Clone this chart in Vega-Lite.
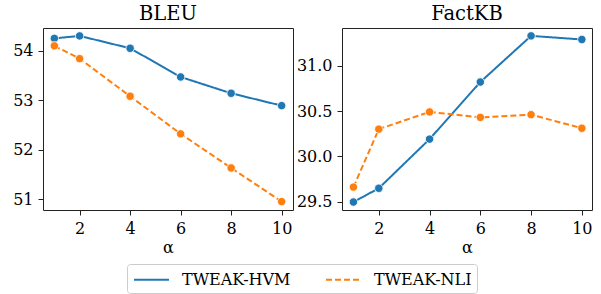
{
  "$schema": "https://vega.github.io/schema/vega-lite/v6.json",
  "padding": {"left": 12, "top": 3, "right": 5, "bottom": 1},
  "background": "white",
  "datasets": {
    "d": [
      {"metric": "BLEU", "alpha": 1, "method": "TWEAK-HVM", "value": 54.25},
      {"metric": "BLEU", "alpha": 2, "method": "TWEAK-HVM", "value": 54.30},
      {"metric": "BLEU", "alpha": 4, "method": "TWEAK-HVM", "value": 54.05},
      {"metric": "BLEU", "alpha": 6, "method": "TWEAK-HVM", "value": 53.47},
      {"metric": "BLEU", "alpha": 8, "method": "TWEAK-HVM", "value": 53.14},
      {"metric": "BLEU", "alpha": 10, "method": "TWEAK-HVM", "value": 52.89},
      {"metric": "BLEU", "alpha": 1, "method": "TWEAK-NLI", "value": 54.10},
      {"metric": "BLEU", "alpha": 2, "method": "TWEAK-NLI", "value": 53.84},
      {"metric": "BLEU", "alpha": 4, "method": "TWEAK-NLI", "value": 53.08},
      {"metric": "BLEU", "alpha": 6, "method": "TWEAK-NLI", "value": 52.32},
      {"metric": "BLEU", "alpha": 8, "method": "TWEAK-NLI", "value": 51.63},
      {"metric": "BLEU", "alpha": 10, "method": "TWEAK-NLI", "value": 50.95},
      {"metric": "FactKB", "alpha": 1, "method": "TWEAK-HVM", "value": 29.495},
      {"metric": "FactKB", "alpha": 2, "method": "TWEAK-HVM", "value": 29.647},
      {"metric": "FactKB", "alpha": 4, "method": "TWEAK-HVM", "value": 30.19},
      {"metric": "FactKB", "alpha": 6, "method": "TWEAK-HVM", "value": 30.82},
      {"metric": "FactKB", "alpha": 8, "method": "TWEAK-HVM", "value": 31.33},
      {"metric": "FactKB", "alpha": 10, "method": "TWEAK-HVM", "value": 31.29},
      {"metric": "FactKB", "alpha": 1, "method": "TWEAK-NLI", "value": 29.66},
      {"metric": "FactKB", "alpha": 2, "method": "TWEAK-NLI", "value": 30.30},
      {"metric": "FactKB", "alpha": 4, "method": "TWEAK-NLI", "value": 30.49},
      {"metric": "FactKB", "alpha": 6, "method": "TWEAK-NLI", "value": 30.43},
      {"metric": "FactKB", "alpha": 8, "method": "TWEAK-NLI", "value": 30.46},
      {"metric": "FactKB", "alpha": 10, "method": "TWEAK-NLI", "value": 30.31}
    ]
  },
  "hconcat": [
    {
      "title": "BLEU",
      "width": 250,
      "height": 182,
      "data": {"name": "d"},
      "transform": [{"filter": "datum.metric === 'BLEU'"}],
      "encoding": {
        "x": {"field": "alpha", "type": "quantitative", "title": "α",
              "scale": {"domain": [0.55, 10.45], "nice": false, "zero": false},
              "axis": {"values": [2, 4, 6, 8, 10]}},
        "y": {"field": "value", "type": "quantitative", "title": null,
              "scale": {"domain": [50.78, 54.46], "nice": false, "zero": false},
              "axis": {"values": [51, 52, 53, 54], "format": "d"}},
        "color": {"field": "method", "type": "nominal", "title": null,
                  "scale": {"domain": ["TWEAK-HVM", "TWEAK-NLI"], "range": ["#1f77b4", "#ff7f0e"]}}
      },
      "layer": [
        {"mark": {"type": "line", "strokeWidth": 2},
         "encoding": {"strokeDash": {"field": "method", "type": "nominal", "title": null,
                        "scale": {"domain": ["TWEAK-HVM", "TWEAK-NLI"], "range": [[1, 0], [6, 3]]}}}},
        {"mark": {"type": "point", "filled": true, "size": 70, "stroke": "white", "strokeWidth": 0.8, "opacity": 1}}
      ]
    },
    {
      "title": "FactKB",
      "width": 250,
      "height": 182,
      "data": {"name": "d"},
      "transform": [{"filter": "datum.metric === 'FactKB'"}],
      "encoding": {
        "x": {"field": "alpha", "type": "quantitative", "title": "α",
              "scale": {"domain": [0.55, 10.4], "nice": false, "zero": false},
              "axis": {"values": [2, 4, 6, 8, 10]}},
        "y": {"field": "value", "type": "quantitative", "title": null,
              "scale": {"domain": [29.407, 31.417], "nice": false, "zero": false},
              "axis": {"values": [29.5, 30, 30.5, 31], "format": ".1f"}},
        "color": {"field": "method", "type": "nominal", "title": null,
                  "scale": {"domain": ["TWEAK-HVM", "TWEAK-NLI"], "range": ["#1f77b4", "#ff7f0e"]}}
      },
      "layer": [
        {"mark": {"type": "line", "strokeWidth": 2},
         "encoding": {"strokeDash": {"field": "method", "type": "nominal", "title": null,
                        "scale": {"domain": ["TWEAK-HVM", "TWEAK-NLI"], "range": [[1, 0], [6, 3]]}}}},
        {"mark": {"type": "point", "filled": true, "size": 70, "stroke": "white", "strokeWidth": 0.8, "opacity": 1}}
      ]
    }
  ],
  "spacing": 1,
  "config": {
    "font": "DejaVu Serif",
    "view": {"stroke": "#222", "strokeWidth": 1},
    "title": {"fontSize": 19.5, "fontWeight": "normal", "color": "black", "offset": 4},
    "axis": {
      "domain": false, "grid": false,
      "tickColor": "#222", "tickSize": 5, "tickWidth": 1,
      "labelFontSize": 16, "labelColor": "black", "labelPadding": 5,
      "titleFontSize": 16, "titleFontWeight": "normal", "titleColor": "black", "titlePadding": 3
    },
    "legend": {
      "orient": "bottom", "direction": "horizontal", "columns": 2,
      "symbolType": "M-1.84,0H1.84", "symbolSize": 361, "symbolStrokeWidth": 2,
      "symbolOffset": 9,
      "labelFontSize": 16, "labelColor": "black", "labelOffset": 20,
      "columnPadding": 31, "padding": 5, "strokeColor": "#ccc", "cornerRadius": 3,
      "offset": 8,
      "layout": {"bottom": {"anchor": "middle"}}
    }
  }
}
